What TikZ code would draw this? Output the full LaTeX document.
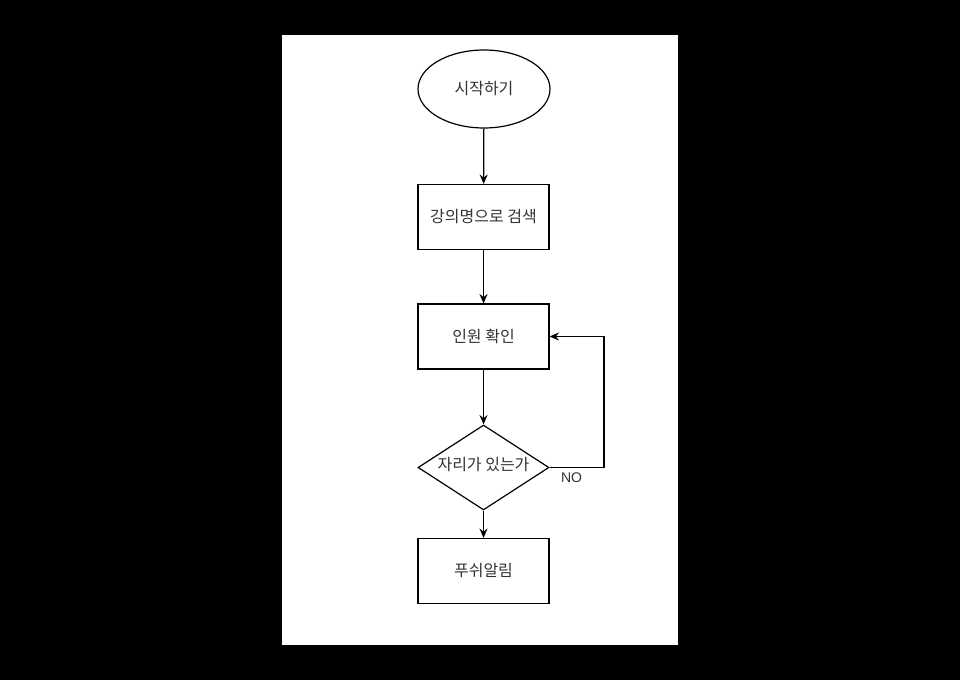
\documentclass[tikz,border=0pt]{standalone}
\usepackage{fontspec}
\setmainfont{Liberation Sans}
\newfontfamily\kr{Noto Sans CJK KR}
\usetikzlibrary{shapes.geometric,arrows.meta}
\begin{document}
\begin{tikzpicture}[x=0.75pt,y=-0.75pt,
  every node/.style={font=\kr\fontsize{12pt}{14pt}\selectfont, text=black!80, line width=0.9pt},
  boxnode/.style={draw=black, rectangle, minimum width=98.25pt, minimum height=48.75pt, inner sep=0pt},
  flow/.style={draw=black, line width=0.9pt, -{Stealth[length=7pt,width=6pt]}}]
\useasboundingbox (0,0) rectangle (960,680);
\fill[black] (0,0) rectangle (960,680);
\fill[white] (282,35) rectangle (678,645);
\node[draw=black, ellipse, minimum width=99pt, minimum height=58.5pt, inner sep=0pt] (start) at (484,89) {시작하기};
\node[boxnode] (search) at (483.5,217) {강의명으로 검색};
\node[boxnode] (check) at (483.5,336.5) {인원 확인};
\node[draw=black, diamond, aspect=1.54, minimum width=98.25pt, minimum height=63.75pt, inner sep=0pt] (seat) at (483.5,467.5) {};
\node (seattext) at (483.5,465) {자리가 있는가};
\node[boxnode] (push) at (483.5,571) {푸쉬알림};
\coordinate (c1) at (604,467.5);
\coordinate (c2) at (604,336.5);
\draw[flow] (start) -- (search);
\draw[flow] (search) -- (check);
\draw[flow] (check) -- (seat);
\draw[flow] (seat) -- (push);
\draw[flow] (seat.east) -- (c1) -- (c2) -- (check.east);
\node[font=\fontsize{10.5pt}{12pt}\selectfont, anchor=west] (no) at (556,478) {NO};
\end{tikzpicture}
\end{document}
